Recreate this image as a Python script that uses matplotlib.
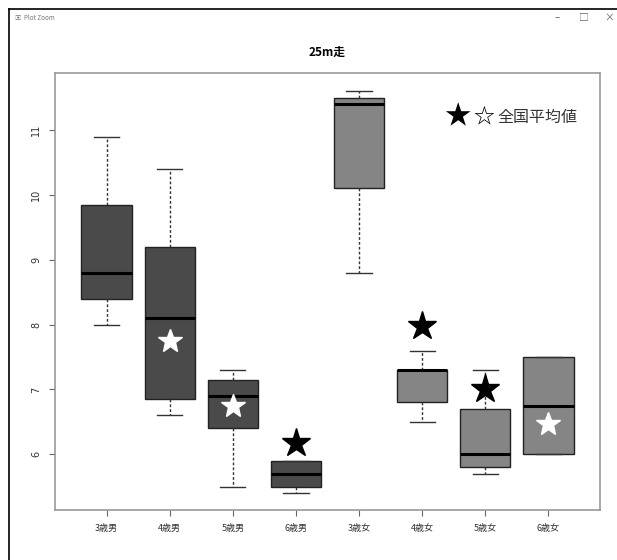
import matplotlib
matplotlib.use("Agg")
import matplotlib.pyplot as plt
from matplotlib.lines import Line2D

# ---------------------------------------------------------------------------
# Data
# ---------------------------------------------------------------------------
groups = ["3歳男", "4歳男", "5歳男", "6歳男", "3歳女", "4歳女", "5歳女", "6歳女"]
whis_lo = [8.0, 6.6, 5.5, 5.4, 8.8, 6.5, 5.7, 6.0]
q1 = [8.4, 6.85, 6.4, 5.5, 10.1, 6.8, 5.8, 6.0]
med = [8.8, 8.1, 6.9, 5.7, 11.4, 7.3, 6.0, 6.75]
q3 = [9.85, 9.2, 7.15, 5.9, 11.5, 7.3, 6.7, 7.5]
whis_hi = [10.9, 10.4, 7.3, 5.9, 11.6, 7.6, 7.3, 7.5]
national_avg = [None, 7.75, 6.75, 6.18, None, 7.98, 7.0, 6.47]
star_colors = [None, "white", "white", "black", None, "black", "black", "white"]
box_colors = ["#4a4a4a"] * 4 + ["#858585"] * 4

JP = ["Noto Sans CJK JP", "DejaVu Sans"]
plt.rcParams["font.family"] = JP

W, H = 617, 560
fig = plt.figure(figsize=(W / 100, H / 100), dpi=100)
fig.patch.set_facecolor("white")

# window chrome of the R "Plot Zoom" window
fig.add_artist(Line2D([9 / W, 1], [1 - 9 / H, 1 - 9 / H], color="black", lw=1.2))
fig.add_artist(Line2D([9 / W, 9 / W], [0, 1 - 9 / H], color="black", lw=1.2))
fig.text(14 / W, 1 - 18 / H, "▣", fontsize=4.5, color="#777777", va="center")
fig.text(24 / W, 1 - 18 / H, "Plot Zoom", fontsize=4.5, color="#777777", va="center")
for x, s in [(557, "–"), (584, "□"), (609, "×")]:
    fig.text(x / W, 1 - 18 / H, s, fontsize=7, color="#666666", ha="center", va="center")

# ---------------------------------------------------------------------------
# Box plot
# ---------------------------------------------------------------------------
ax = fig.add_axes([55 / W, 1 - 510 / H, 545 / W, 437 / H])
pos = list(range(1, len(groups) + 1))

stats = []
for i, g in enumerate(groups):
    stats.append({"label": g, "whislo": whis_lo[i], "q1": q1[i], "med": med[i],
                  "q3": q3[i], "whishi": whis_hi[i], "fliers": []})

bp = ax.bxp(stats, positions=pos, widths=0.8, capwidths=0.4, patch_artist=True,
            showfliers=False,
            boxprops=dict(edgecolor="#222222", linewidth=1),
            medianprops=dict(color="black", linewidth=2.2),
            whiskerprops=dict(color="#333333", linewidth=1, linestyle=(0, (2, 1.5))),
            capprops=dict(color="#333333", linewidth=1))
for patch, c in zip(bp["boxes"], box_colors):
    patch.set_facecolor(c)

for p, v, c in zip(pos, national_avg, star_colors):
    if v is None:
        continue
    size = 21 if c == "black" else 18
    ax.plot(p, v, marker="*", ms=size, color=c, mec=c, zorder=5)

ax.set_xlim(0.5 - 0.32, 8.5 + 0.32)
ax.set_ylim(5.14, 11.88)
ax.set_xticks(pos)
ax.set_xticklabels(groups, fontsize=6.5, color="#333333")
ax.set_yticks([6, 7, 8, 9, 10, 11])
ax.set_yticklabels(["6", "7", "8", "9", "10", "11"], rotation=90, va="center",
                   fontsize=7, color="#333333", family="DejaVu Sans")
ax.tick_params(length=4, color="#666666", pad=6)
for s in ax.spines.values():
    s.set_color("#999999")
    s.set_linewidth(1.2)

fig.text(327 / W, 1 - 52 / H, "25m走", fontsize=8.5, fontweight="bold",
         ha="center", va="center")

# legend-like annotation
fig.text(458 / W, 1 - 117 / H, "★", fontsize=19, ha="center", va="center", family=JP)
fig.text(484 / W, 1 - 117 / H, "☆", fontsize=15, ha="center", va="center", family=JP)
fig.text(497 / W, 1 - 117 / H, "全国平均値", fontsize=11.5, ha="left", va="center",
         color="#333333", family=JP)

fig.savefig("out.png", dpi=100)
